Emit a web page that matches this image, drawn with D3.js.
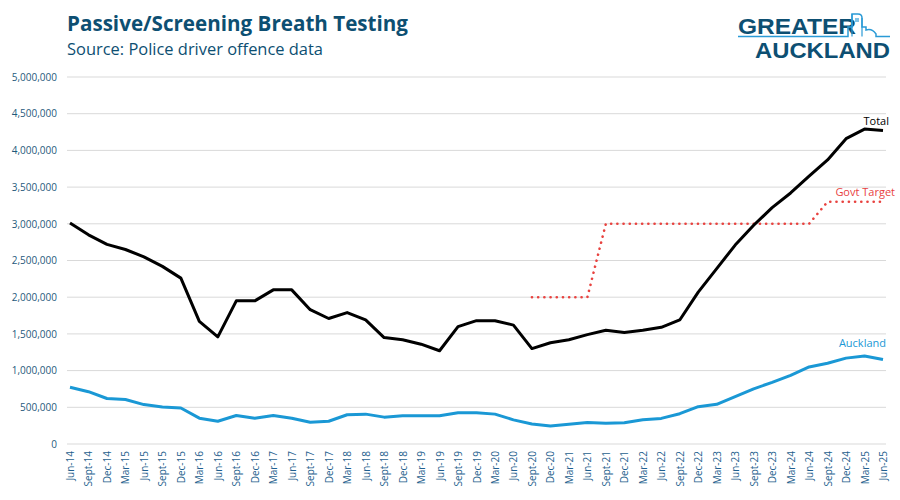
<!DOCTYPE html>
<html>
<head>
<meta charset="utf-8">
<script src="https://cdn.jsdelivr.net/npm/d3@7"></script>
<style>
  body { margin: 0; background: #fff; }
  svg { font-family: "Open Sans", "Noto Sans", sans-serif; }
</style>
</head>
<body>
<div class="graphic"></div>
<script>
const W = 900, H = 500;

// quarters Jun-14 .. Jun-25
const quarters = ["Jun-14","Sept-14","Dec-14","Mar-15","Jun-15","Sept-15","Dec-15","Mar-16","Jun-16","Sept-16","Dec-16","Mar-17",
  "Jun-17","Sept-17","Dec-17","Mar-18","Jun-18","Sept-18","Dec-18","Mar-19","Jun-19","Sept-19","Dec-19","Mar-20",
  "Jun-20","Sept-20","Dec-20","Mar-21","Jun-21","Sept-21","Dec-21","Mar-22","Jun-22","Sept-22","Dec-22","Mar-23",
  "Jun-23","Sept-23","Dec-23","Mar-24","Jun-24","Sept-24","Dec-24","Mar-25","Jun-25"];

const total = [3010000,2850000,2720000,2650000,2550000,2420000,2260000,1670000,1460000,1950000,1950000,2100000,
  2100000,1830000,1710000,1790000,1690000,1450000,1420000,1360000,1270000,1600000,1680000,1680000,
  1620000,1300000,1380000,1420000,1490000,1550000,1520000,1550000,1590000,1690000,2070000,2390000,
  2710000,2980000,3220000,3420000,3650000,3870000,4160000,4290000,4270000];

const auckland = [773000,713000,620000,606000,537000,505000,491000,352000,310000,389000,352000,389000,
  352000,296000,310000,398000,407000,366000,384000,384000,384000,426000,426000,407000,
  329000,273000,245000,268000,292000,282000,289000,330000,349000,413000,509000,541000,
  647000,752000,839000,936000,1050000,1100000,1170000,1200000,1150000];

// govt target only from Sept-20
const target = [null,null,null,null,null,null,null,null,null,null,null,null,
  null,null,null,null,null,null,null,null,null,null,null,null,
  null,2000000,2000000,2000000,2000000,3000000,3000000,3000000,3000000,3000000,3000000,3000000,
  3000000,3000000,3000000,3000000,3000000,3300000,3300000,3300000,3300000];

const yTicks = [0,500000,1000000,1500000,2000000,2500000,3000000,3500000,4000000,4500000,5000000];

const navy = "#0d4f72";

var svg = d3.select(".graphic")
  .append("svg")
  .attr("width", W)
  .attr("height", H);

var x = d3.scalePoint()
  .domain(quarters)
  .range([70, 883]);

var y = d3.scaleLinear()
  .domain([0, 5000000])
  .range([444, 77]);

// gridlines
svg.append("g")
  .selectAll("line")
  .data(yTicks)
  .enter()
  .append("line")
  .attr("x1", 67)
  .attr("x2", 886)
  .attr("y1", d => y(d))
  .attr("y2", d => y(d))
  .style("stroke", "#d9d9d9")
  .style("stroke-width", 1);

// y axis labels
var yAxis = svg.append("g")
  .attr("transform", "translate(57,0)")
  .call(d3.axisLeft(y).tickValues(yTicks).tickFormat(d3.format(",")).tickSize(0).tickPadding(0));
yAxis.select(".domain").remove();
yAxis.selectAll("text")
  .style("font-size", "10px")
  .style("font-family", "Open Sans")
  .style("fill", "#1f5a7c");

// x axis labels
var xAxis = svg.append("g")
  .attr("transform", "translate(0,444)")
  .call(d3.axisBottom(x).tickSize(0).tickPadding(0));
xAxis.select(".domain").remove();
xAxis.selectAll("text")
  .attr("transform", "rotate(-90)")
  .attr("x", -7)
  .attr("y", 0)
  .attr("dy", "0.35em")
  .style("text-anchor", "end")
  .style("font-size", "10px")
  .style("font-family", "Open Sans")
  .style("fill", "#1f5f8e");

var line = d3.line()
  .defined(d => d != null)
  .x((d, i) => x(quarters[i]))
  .y(d => y(d));

svg.append("path")
  .datum(target)
  .attr("d", line)
  .style("fill", "none")
  .style("stroke", "#e8423f")
  .style("stroke-width", 2.6)
  .style("stroke-linecap", "round")
  .style("stroke-dasharray", "0.1,6.1");

svg.append("path")
  .datum(auckland)
  .attr("d", line)
  .style("fill", "none")
  .style("stroke", "#1a98d5")
  .style("stroke-width", 3)
  .style("stroke-linejoin", "round");

svg.append("path")
  .datum(total)
  .attr("d", line)
  .style("fill", "none")
  .style("stroke", "#000")
  .style("stroke-width", 3)
  .style("stroke-linejoin", "round");

// series labels
svg.append("text").attr("x", 889).attr("y", 125).attr("text-anchor", "end")
  .style("font-size", "11px").style("fill", "#000").text("Total");
svg.append("text").attr("x", 895).attr("y", 196).attr("text-anchor", "end")
  .style("font-size", "11px").style("fill", "#e8423f").text("Govt Target");
svg.append("text").attr("x", 886).attr("y", 347).attr("text-anchor", "end")
  .style("font-size", "11px").style("fill", "#1a98d5").text("Auckland");

// title
svg.append("text").attr("x", 67).attr("y", 31)
  .style("font-size", "21px").style("font-weight", "bold").style("fill", navy)
  .attr("textLength", 341).attr("lengthAdjust", "spacingAndGlyphs")
  .text("Passive/Screening Breath Testing");
svg.append("text").attr("x", 67).attr("y", 55)
  .style("font-size", "16px").style("fill", navy)
  .attr("textLength", 256).attr("lengthAdjust", "spacingAndGlyphs")
  .text("Source: Police driver offence data");

// logo
var logo = svg.append("g");
logo.append("text").attr("x", 738).attr("y", 34)
  .style("font-family", "Liberation Sans")
  .style("font-size", "22px").style("font-weight", "bold").style("fill", navy)
  .attr("textLength", 118).attr("lengthAdjust", "spacingAndGlyphs")
  .text("GREATER");
logo.append("text").attr("x", 755).attr("y", 58)
  .style("font-family", "Liberation Sans")
  .style("font-size", "22px").style("font-weight", "bold").style("fill", navy)
  .attr("textLength", 135).attr("lengthAdjust", "spacingAndGlyphs")
  .text("AUCKLAND");
logo.append("path")
  .attr("d", "M738,36.5 H848 V27 H852 V14 H858 Q862,14 862,18 V27 H866 V30 Q872,28 876,34 V36.5 H890")
  .style("fill", "none").style("stroke", "#2a9ad6").style("stroke-width", 1.5);
logo.append("path")
  .attr("d", "M852,14 V36.5 M862,18 V36.5 M856,18 V22 M858,18 V22")
  .style("fill", "none").style("stroke", "#2a9ad6").style("stroke-width", 1.2);
</script>
</body>
</html>
